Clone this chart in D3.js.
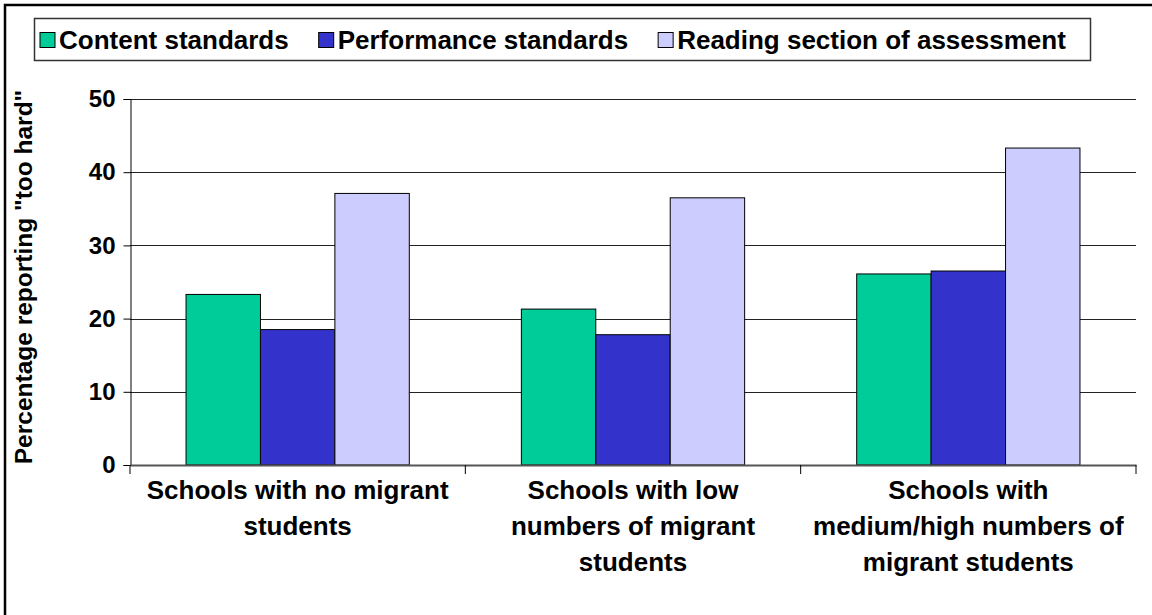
<!DOCTYPE html>
<html>
<head>
<meta charset="utf-8">
<script src="https://cdn.jsdelivr.net/npm/d3@7"></script>
<style>
  html, body { margin: 0; padding: 0; background: #fff; }
  svg { display: block; }
  text { font-family: "Liberation Sans", Arial, sans-serif; font-weight: bold; fill: #000; }
</style>
</head>
<body>
<svg id="chart" width="1152" height="615"></svg>
<script>
// ---- data ----
const categories = [
  "Schools with no migrant students",
  "Schools with low numbers of migrant students",
  "Schools with medium/high numbers of migrant students"
];
const categoryLines = [
  ["Schools with no migrant", "students"],
  ["Schools with low", "numbers of migrant", "students"],
  ["Schools with", "medium/high numbers of", "migrant students"]
];
const seriesNames = ["Content standards", "Performance standards", "Reading section of assessment"];
const contentStandards = [23.3, 21.3, 26.1];
const performanceStandards = [18.5, 17.8, 26.5];
const readingSection = [37.1, 36.5, 43.3];
const yTicks = [0, 10, 20, 30, 40, 50];
const yTitle = "Percentage reporting \"too hard\"";

const seriesValues = [contentStandards, performanceStandards, readingSection];
const colors = ["#00CC99", "#3333CC", "#CCCCFF"];

// ---- layout ----
const svg = d3.select("#chart");
const plot = { left: 130, right: 1136, top: 99, bottom: 465 };

// outer frame (only top and left visible)
svg.append("rect")
  .attr("x", 5).attr("y", 5).attr("width", 1300).attr("height", 800)
  .attr("fill", "none").attr("stroke", "#000").attr("stroke-width", 2.5);

const x = d3.scaleBand().domain(categories).range([plot.left, plot.right]).paddingInner(0).paddingOuter(0);
const xs = d3.scaleBand().domain(seriesNames).range([0, x.bandwidth()]).paddingInner(0).paddingOuter(0.753);
const y = d3.scaleLinear().domain([0, 50]).range([plot.bottom, plot.top]);

// gridlines
svg.append("g").selectAll("line").data(yTicks.filter(d => d > 0)).join("line")
  .attr("x1", plot.left).attr("x2", plot.right)
  .attr("y1", d => Math.round(y(d)) + 0.5).attr("y2", d => Math.round(y(d)) + 0.5)
  .attr("stroke", "#222").attr("stroke-width", 1);

// bars
const groups = svg.append("g").selectAll("g").data(categories).join("g")
  .attr("transform", d => `translate(${x(d)},0)`);
groups.selectAll("rect").data((d, i) => seriesNames.map((s, j) => ({ s, j, v: seriesValues[j][i] })))
  .join("rect")
  .attr("x", d => xs(d.s))
  .attr("width", xs.bandwidth())
  .attr("y", d => y(d.v))
  .attr("height", d => y(0) - y(d.v))
  .attr("fill", d => colors[d.j])
  .attr("stroke", "#000").attr("stroke-width", 1);

// y axis
const yAxis = d3.axisLeft(y).tickValues(yTicks).tickSize(7).tickPadding(8).tickFormat(d3.format("d"));
const gy = svg.append("g").attr("transform", `translate(${plot.left + 0.5},0)`).call(yAxis);
gy.select(".domain").attr("stroke", "#000");
gy.selectAll(".tick line").attr("stroke", "#000");
gy.selectAll(".tick text").style("font-size", "24px").style("font-family", "Liberation Sans, Arial, sans-serif").style("font-weight", "bold").attr("fill", "#000");

// x axis
const xAxis = d3.axisBottom(x).tickSize(0).tickFormat("");
const gx = svg.append("g").attr("transform", `translate(0,${plot.bottom})`).call(xAxis);
gx.select(".domain").attr("stroke", "#555").attr("stroke-width", 2);
const boundaries = categories.map(c => x(c)).concat([x(categories[categories.length - 1]) + x.bandwidth()]);
gx.selectAll(".bound").data(boundaries).join("line")
  .attr("class", "bound")
  .attr("x1", d => d).attr("x2", d => d)
  .attr("y1", 0).attr("y2", 9)
  .attr("stroke", "#000").attr("stroke-width", 1);

// x labels
const labels = svg.append("g");
categoryLines.forEach((lines, i) => {
  const t = labels.append("text")
    .attr("text-anchor", "middle")
    .style("font-size", "26px");
  lines.forEach((ln, k) => {
    t.append("tspan")
      .attr("x", x(categories[i]) + x.bandwidth() / 2)
      .attr("y", 499 + k * 36)
      .text(ln);
  });
});

// y title
svg.append("text")
  .attr("transform", `translate(23,${(plot.top + plot.bottom) / 2 - 5}) rotate(-90)`)
  .attr("text-anchor", "middle")
  .attr("dy", "0.35em")
  .style("font-size", "24.5px")
  .text(yTitle);

// legend
const legend = svg.append("g");
legend.append("rect")
  .attr("x", 34.5).attr("y", 18.5).attr("width", 1056).attr("height", 42)
  .attr("fill", "#fff").attr("stroke", "#333").attr("stroke-width", 1.5);
let lx = 40;
seriesNames.forEach((s, j) => {
  legend.append("rect")
    .attr("x", lx).attr("y", 32.5).attr("width", 15).attr("height", 15)
    .attr("fill", colors[j]).attr("stroke", "#000").attr("stroke-width", 1);
  const t = legend.append("text")
    .attr("x", lx + 19).attr("y", 49)
    .style("font-size", "26px")
    .text(s);
  lx = lx + 19 + t.node().getComputedTextLength() + 30;
});
</script>
</body>
</html>
